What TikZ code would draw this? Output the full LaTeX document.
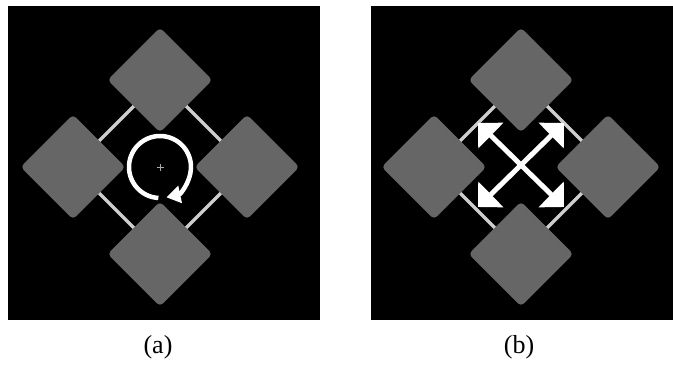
\documentclass[tikz,border=0pt]{standalone}
\usepackage{fontspec}
\setmainfont{Liberation Serif}
\usetikzlibrary{arrows.meta}
\pgfdeclarelayer{panel}
\pgfdeclarelayer{links}
\pgfsetlayers{panel,links,main}
\definecolor{tilegray}{HTML}{666666}
\definecolor{linkgray}{HTML}{CDCDCD}
\definecolor{markgray}{HTML}{A8A8A8}
\tikzset{
  tile/.style={rectangle, fill=tilegray, rotate=45, minimum width=74pt,
    minimum height=74pt, inner sep=0pt, rounded corners=4pt},
  linkline/.style={draw=linkgray, line width=3.2pt},
  panelbg/.style={fill=black},
  turn/.style={draw=white, line width=4.5pt,
    -{Triangle[length=14pt,width=17pt]}},
  spread/.style={draw=white, line width=5pt,
    {Triangle[length=18pt,width=35pt]}-{Triangle[length=18pt,width=35pt]}},
  centermark/.style={draw=markgray, line width=1pt},
  caption/.style={font=\fontsize{26}{30}\selectfont, anchor=base, inner sep=0pt},
}
\begin{document}
\begin{tikzpicture}[x=1pt,y=-1pt]
\useasboundingbox (0,0) rectangle (673,365);

% page and black panels
\begin{pgfonlayer}{panel}
  \fill[white] (0,0) rectangle (673,365);
  \fill[panelbg] (8,6) rectangle (320,320);
  \fill[panelbg] (371,6) rectangle (673,320);
\end{pgfonlayer}

% ---------- (a): four tiles with rotation ----------
\node[tile] (at) at (160,80) {};
\node[tile] (al) at (73,167) {};
\node[tile] (ar) at (247,167) {};
\node[tile] (ab) at (160,254) {};
\begin{pgfonlayer}{links}
  \draw[linkline] (at.center) -- (al.center) -- (ab.center) -- (ar.center) -- cycle;
\end{pgfonlayer}
\coordinate (ca) at (160,167);
\draw[centermark] (ca) +(-3.5,0) -- +(3.5,0);
\draw[centermark] (ca) +(0,-3.5) -- +(0,3.5);
\draw[turn] (ca) ++(93:31) arc[start angle=93, end angle=438, radius=31];

% ---------- (b): four tiles with scaling ----------
\node[tile] (bt) at (521,80) {};
\node[tile] (bl) at (434,167) {};
\node[tile] (br) at (608,167) {};
\node[tile] (bb) at (521,254) {};
\begin{pgfonlayer}{links}
  \draw[linkline] (bt.center) -- (bl.center) -- (bb.center) -- (br.center) -- cycle;
\end{pgfonlayer}
\coordinate (cb) at (521,165);
\draw[spread] (cb) +(-43,-42) -- +(43,42);
\draw[spread] (cb) +(43,-42) -- +(-43,42);

% captions
\node[caption] (capa) at (158,353) {(a)};
\node[caption] (capb) at (519,353) {(b)};
\end{tikzpicture}
\end{document}
